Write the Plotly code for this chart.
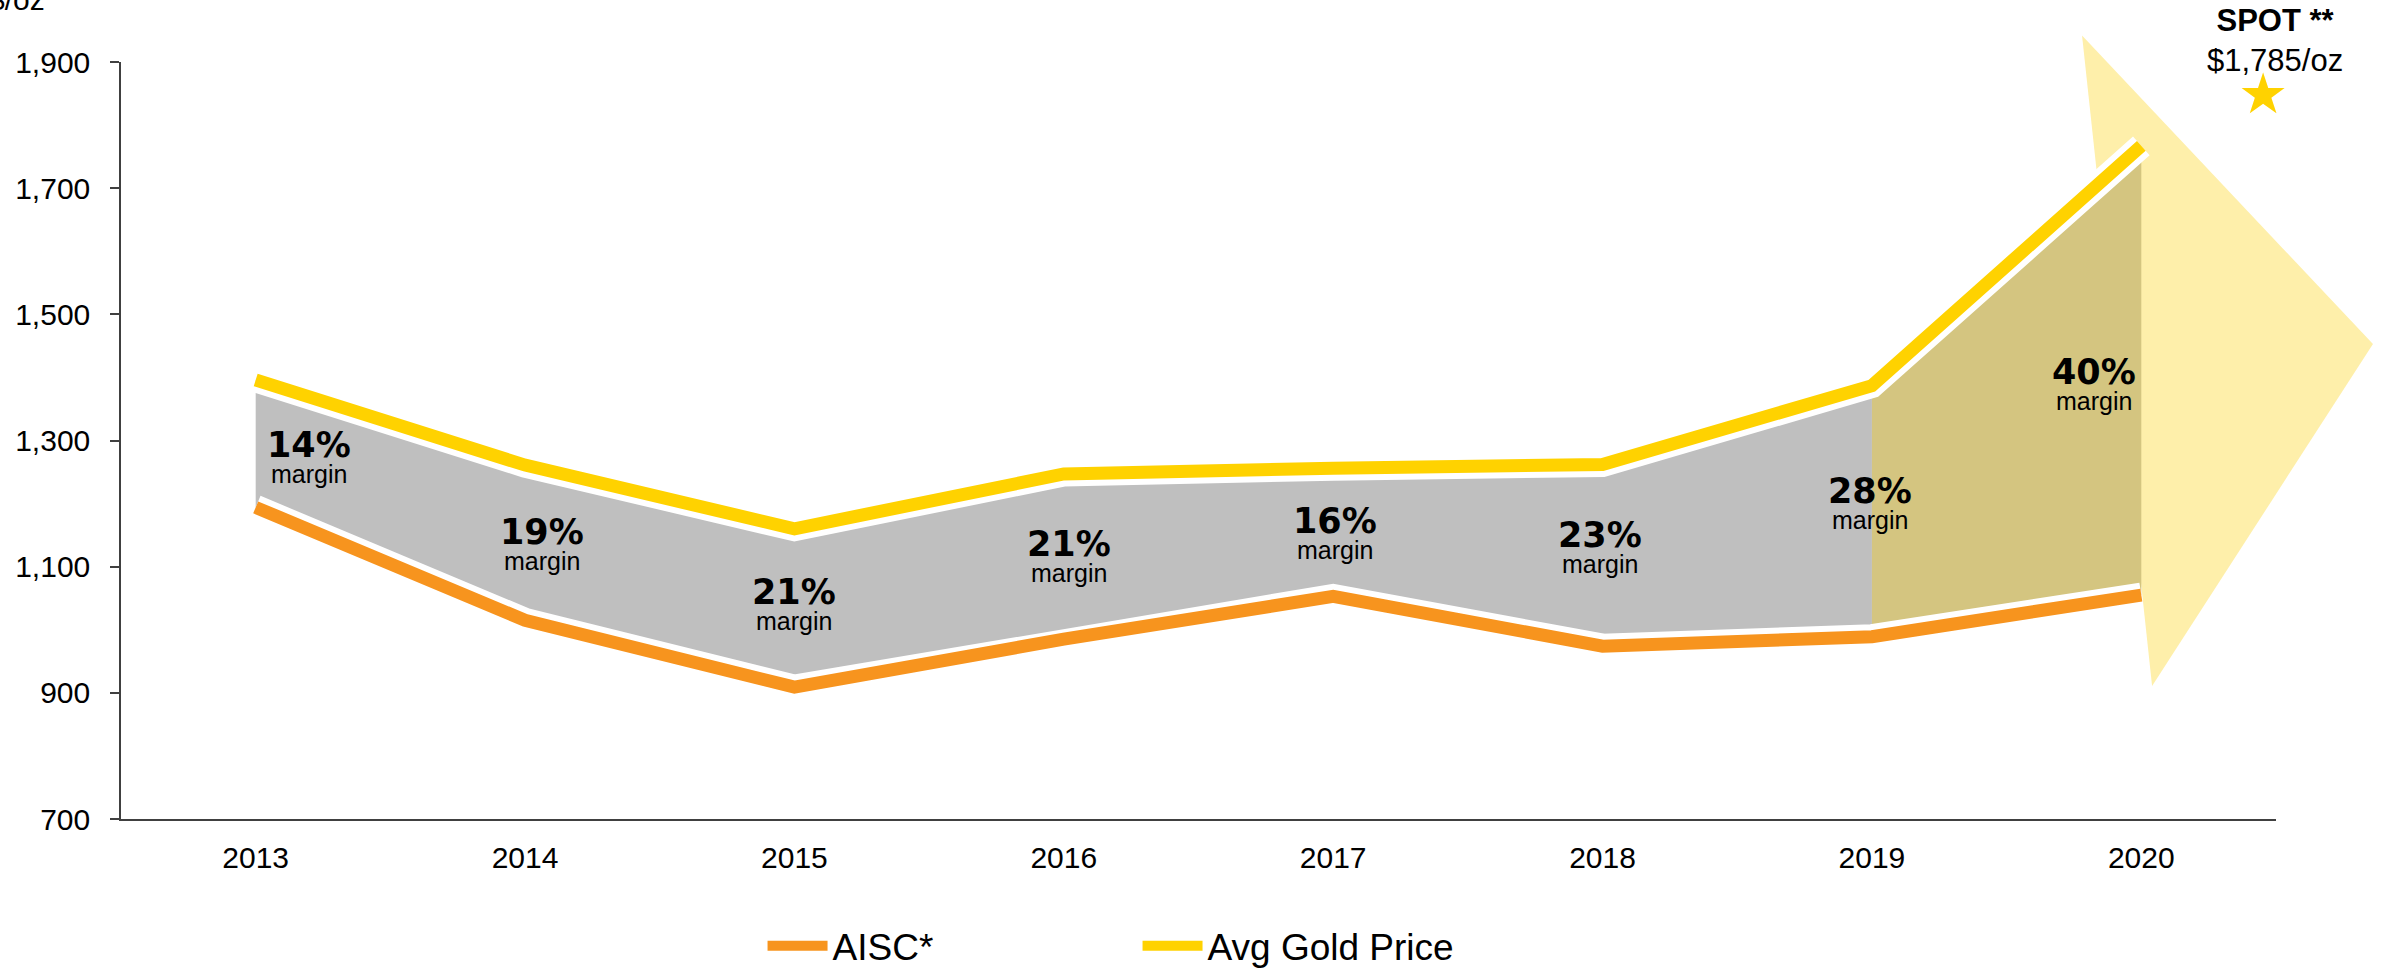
import plotly.graph_objects as go

# ---------------- data ----------------
years = [2013, 2014, 2015, 2016, 2017, 2018, 2019, 2020]
aisc = [1194, 1015, 909, 985, 1053, 974, 989, 1055]
gold = [1396, 1261, 1160, 1247, 1256, 1262, 1387, 1767]
margins = ["14%", "19%", "21%", "21%", "16%", "23%", "28%", "40%"]
y_ticks = [700, 900, 1100, 1300, 1500, 1700, 1900]
spot_label = "$1,785/oz"

# ---------------- style ----------------
FONT = "Liberation Sans, Arial, sans-serif"
PCT_FONT = "DejaVu Sans, Liberation Sans, sans-serif"
C_GOLD = "#FFD200"
C_AISC = "#F7941E"
C_GREY = "#BFBFBF"
C_TAN = "#D4C580"
C_ARROW = "#FEEFAA"
AXIS_C = "#404040"
XR = [2012.5, 2020.5]
YR = [700, 1900]
LW = 13

# per-label pixel nudges (dx, dy) relative to band centre
label_nudge = [(53, -15), (17, -3), (0, 2), (5, -1), (2, -3), (-3, 6), (-2, 6), (-47, -16)]

# arrow decoration, given in axis units, converted to paper
arrow_pts = [(2019.78, 1942), (2020.86, 1453), (2020.04, 911)]


def to_paper(x, y):
    return (x - XR[0]) / (XR[1] - XR[0]), (y - YR[0]) / (YR[1] - YR[0])


fig = go.Figure()

# band fills
n_grey = 7
fig.add_trace(go.Scatter(
    x=years[:n_grey] + years[:n_grey][::-1],
    y=gold[:n_grey] + aisc[:n_grey][::-1],
    fill="toself", fillcolor=C_GREY, mode="none", showlegend=False, hoverinfo="skip"))
fig.add_trace(go.Scatter(
    x=years[6:] + years[6:][::-1],
    y=gold[6:] + aisc[6:][::-1],
    fill="toself", fillcolor=C_TAN, mode="none", showlegend=False, hoverinfo="skip"))

# white halos to create the inset gap
for series in (gold, aisc):
    fig.add_trace(go.Scatter(x=years, y=series, mode="lines",
                             line=dict(color="white", width=LW + 12),
                             showlegend=False, hoverinfo="skip"))

fig.add_trace(go.Scatter(x=years, y=aisc, mode="lines", name="AISC*",
                         line=dict(color=C_AISC, width=LW)))
fig.add_trace(go.Scatter(x=years, y=gold, mode="lines", name="Avg Gold Price",
                         line=dict(color=C_GOLD, width=LW)))

# arrow shape
pp = [to_paper(x, y) for x, y in arrow_pts]
path = "M {},{} L {},{} L {},{} Z".format(*[c for p in pp for c in p])
fig.add_shape(type="path", path=path, xref="paper", yref="paper",
              fillcolor=C_ARROW, line=dict(width=0), layer="below")

annotations = []
for yr, g, a, m, (dx, dy) in zip(years, gold, aisc, margins, label_nudge):
    mid = (g + a) / 2
    annotations.append(dict(x=yr, y=mid, xref="x", yref="y", text="<b>%s</b>" % m,
                            showarrow=False, xshift=dx, yshift=dy + 14,
                            font=dict(family=PCT_FONT, size=35, color="black")))
    annotations.append(dict(x=yr, y=mid, xref="x", yref="y", text="margin",
                            showarrow=False, xshift=dx, yshift=dy - 15,
                            font=dict(family=FONT, size=25, color="black")))

# y-axis unit title (partly off canvas at top-left)
annotations.append(dict(x=-0.0626, y=1.058, xref="paper", yref="paper", text="$/oz",
                        showarrow=False, xanchor="left", yanchor="bottom",
                        font=dict(family=FONT, size=30, color="black")))
# spot price
annotations.append(dict(x=0.9995, y=1.029, xref="paper", yref="paper",
                        text="<b>SPOT **</b><br>" + spot_label,
                        showarrow=False, xanchor="center", yanchor="middle",
                        font=dict(family=FONT, size=31, color="black")))
annotations.append(dict(x=0.994, y=0.959, xref="paper", yref="paper", text="★",
                        showarrow=False, xanchor="center", yanchor="middle",
                        font=dict(family="DejaVu Sans", size=56, color=C_GOLD)))

fig.update_layout(
    width=2384, height=968,
    margin=dict(l=121, r=108, t=62, b=149, autoexpand=False),
    paper_bgcolor="white", plot_bgcolor="white",
    font=dict(family=FONT, size=30, color="black"),
    annotations=annotations,
    showlegend=True,
    legend=dict(orientation="h", x=0.2977, xanchor="left", y=-0.168, yanchor="middle",
                font=dict(family=FONT, size=37, color="black"),
                itemwidth=60, entrywidth=300, entrywidthmode="pixels",
                bgcolor="rgba(0,0,0,0)"),
    xaxis=dict(range=XR, tickmode="array", tickvals=years, ticktext=[str(y) for y in years],
               showline=True, linecolor=AXIS_C, linewidth=1.5, ticks="", showgrid=False,
               zeroline=False, ticklabelstandoff=11, tickfont=dict(size=30)),
    yaxis=dict(range=YR, tickmode="array", tickvals=y_ticks,
               ticktext=["{:,}".format(v) for v in y_ticks],
               showline=True, linecolor=AXIS_C, linewidth=1.5, ticks="outside", ticklen=9,
               tickcolor=AXIS_C, tickwidth=1.5, showgrid=False, zeroline=False,
               ticklabelstandoff=14, tickfont=dict(size=30)),
)

fig.write_html("out.html", config={"displayModeBar": False},
               post_script="document.body.style.margin='0';document.body.style.overflow='hidden';")
